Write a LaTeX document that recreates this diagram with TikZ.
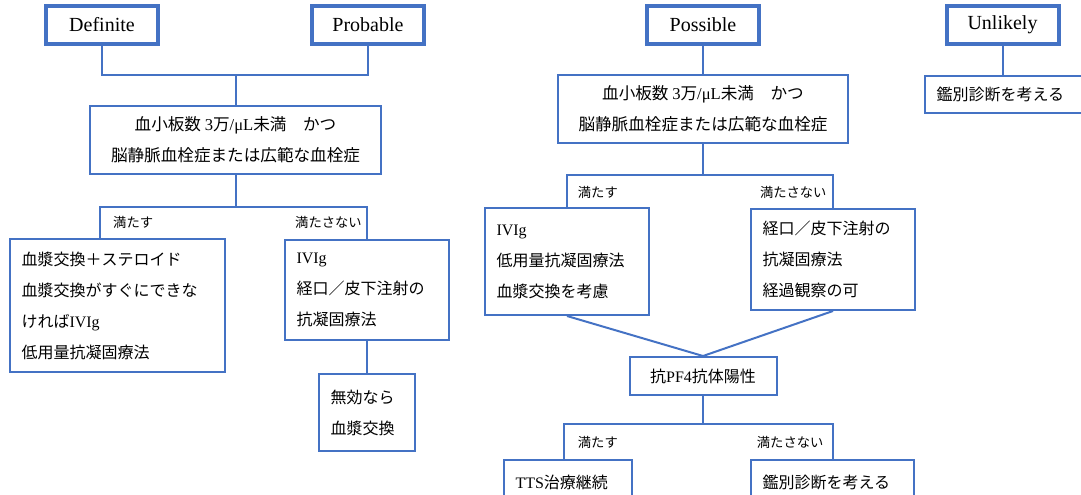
\documentclass[tikz,border=0pt]{standalone}
\usepackage{fontspec}
\usepackage{xcolor}
\setmainfont{Liberation Serif}
\newfontfamily\jp{Noto Sans CJK JP}
\definecolor{niebieski}{HTML}{4472C4}
\usetikzlibrary{positioning}

\begin{document}
\begin{tikzpicture}[x=1pt,y=-1pt,
  kategoria/.style={
  % The shape:
  rectangle,
  minimum width=112pt,
  minimum height=38pt,
  inner sep=0pt,
  % The border:
  line width=4pt,
  draw=niebieski,
  fill=white,
  % Font
  font=\fontsize{20}{24}\selectfont
  },
  warunek/.style={
  % The shape:
  rectangle,
  minimum height=68pt,
  align=center,
  % The border:
  line width=2pt,
  draw=niebieski,
  % Font
  font=\jp\fontsize{16.6}{31}\selectfont
  },
  leczenie/.style={
  % The shape:
  rectangle,
  inner xsep=11.5pt,
  inner ysep=0pt,
  align=left,
  % The border:
  line width=2pt,
  draw=niebieski,
  % Font
  font=\jp\fontsize{16}{31}\selectfont
  },
  etykieta/.style={
  anchor=west,
  inner sep=0pt,
  font=\jp\fontsize{13.3}{16}\selectfont
  },
  linia/.style={
  line width=2pt,
  draw=niebieski
  }]
  \useasboundingbox (0,0) rectangle (1081,495);
  \clip (0,0) rectangle (1081,495);

  % Definite / Probable
  \node (def) [kategoria] at (102,25) {Definite};
  \node (prob) [kategoria] at (368,25) {Probable};
  \node (war1) [warunek,minimum width=291pt] at (235.5,140)
    {血小板数 \textrm{3}万\textrm{/μL}未満　かつ\\脳静脈血栓症または広範な血栓症};
  \node (L1) [leczenie,text width=191.5pt,minimum height=133pt] at (117.25,305.5)
    {血漿交換＋ステロイド\\血漿交換がすぐにできな\\ければ\textrm{IVIg}\\低用量抗凝固療法};
  \node (L2) [leczenie,text width=141pt,minimum height=100pt] at (367,290)
    {\textrm{IVIg}\\経口／皮下注射の\\抗凝固療法};
  \node (L3) [leczenie,text width=73pt,minimum height=77pt,below=32pt of L2]
    {無効なら\\血漿交換};
  \node (tak1) [etykieta] at (113,222) {満たす};
  \node (nie1) [etykieta] at (295,222) {満たさない};

  \coordinate (jDP) at (235.5,75);
  \coordinate (j1) at (235.5,207);
  \coordinate (wejL1) at ([xshift=91pt]L1.north west);
  \draw[linia] (def.south) |- (jDP) -| (prob.south);
  \draw[linia] (jDP) to (war1.north);
  \draw[linia] (war1.south) to (j1);
  \draw[linia] (wejL1) |- (j1) -| (L2.north);
  \draw[linia] (L2.south) to (L3.north);

  % Possible
  \node (pos) [kategoria] at (703,25) {Possible};
  \node (war2) [warunek,minimum width=290pt] at (703,109)
    {血小板数 \textrm{3}万\textrm{/μL}未満　かつ\\脳静脈血栓症または広範な血栓症};
  \node (P1) [leczenie,text width=141pt,minimum height=107pt] at (567,261.5)
    {\textrm{IVIg}\\低用量抗凝固療法\\血漿交換を考慮};
  \node (P2) [leczenie,text width=141pt,minimum height=101pt] at (833,259.5)
    {経口／皮下注射の\\抗凝固療法\\経過観察の可};
  \node (pf4) [leczenie,align=center,minimum width=147pt,minimum height=38pt] at (703,376)
    {抗\textrm{PF4}抗体陽性};
  \node (P3) [leczenie,text width=104.5pt,minimum height=45pt,anchor=north] at (567.75,459)
    {\textrm{TTS}治療継続};
  \node (P4) [leczenie,text width=140pt,minimum height=45pt,anchor=north] at (832.5,459)
    {鑑別診断を考える};
  \node (tak2) [etykieta] at (577.7,192) {満たす};
  \node (nie2) [etykieta] at (759.8,192) {満たさない};
  \node (tak3) [etykieta] at (577.7,442) {満たす};
  \node (nie3) [etykieta] at (756.7,442) {満たさない};

  \coordinate (j2) at (703,175);
  \coordinate (j3) at (703,424);
  \coordinate (wejP3) at ([xshift=61pt]P3.north west);
  \draw[linia] (pos.south) to (war2.north);
  \draw[linia] (war2.south) to (j2);
  \draw[linia] (P1.north) |- (j2) -| (P2.north);
  \draw[linia] (P1.south) to (pf4.north);
  \draw[linia] (P2.south) to (pf4.north);
  \draw[linia] (pf4.south) to (j3);
  \draw[linia] (wejP3) |- (j3) -| (P4.north);

  % Unlikely
  \node (unl) [kategoria] at (1002.5,25) {Unlikely};
  \node (U1) [leczenie,text width=140pt,minimum height=37pt,anchor=north west] at (924,75)
    {鑑別診断を考える};
  \draw[linia] (unl.south) to (unl.south |- U1.north);
\end{tikzpicture}
\end{document}
